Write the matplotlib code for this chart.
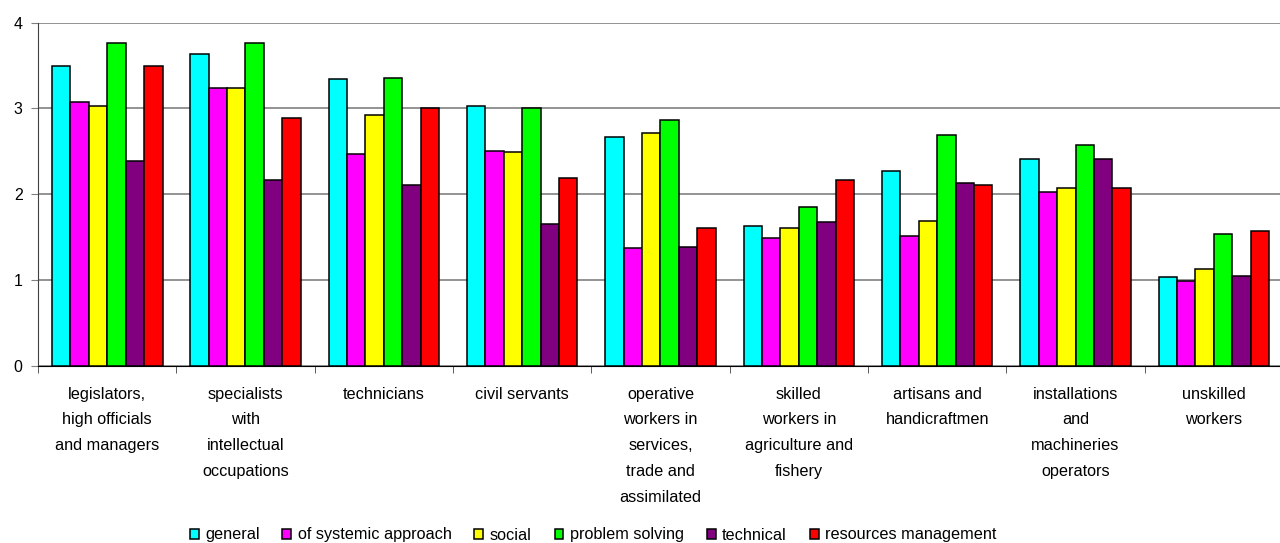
import numpy as np
import matplotlib
matplotlib.use('Agg')
import matplotlib.pyplot as plt

plt.rcParams['font.family'] = ['Liberation Sans', 'DejaVu Sans']

# 类别与数据
categories = [
    'legislators,\nhigh officials\nand managers',
    'specialists\nwith\nintellectual\noccupations',
    'technicians',
    'civil servants',
    'operative\nworkers in\nservices,\ntrade and\nassimilated',
    'skilled\nworkers in\nagriculture and\nfishery',
    'artisans and\nhandicraftmen',
    'installations\nand\nmachineries\noperators',
    'unskilled\nworkers',
]
series_names = ['general', 'of systemic approach', 'social', 'problem solving',
                'technical', 'resources management']

general = [3.50, 3.63, 3.34, 3.03, 2.67, 1.63, 2.27, 2.41, 1.03]
systemic = [3.07, 3.24, 2.47, 2.50, 1.37, 1.49, 1.51, 2.03, 0.99]
social = [3.03, 3.24, 2.92, 2.49, 2.71, 1.61, 1.69, 2.07, 1.13]
problem_solving = [3.76, 3.76, 3.36, 3.00, 2.86, 1.85, 2.69, 2.57, 1.54]
technical = [2.39, 2.17, 2.11, 1.65, 1.39, 1.67, 2.13, 2.41, 1.05]
resources = [3.50, 2.89, 3.00, 2.19, 1.61, 2.17, 2.11, 2.07, 1.57]

series = [general, systemic, social, problem_solving, technical, resources]
colors = ['#00FFFF', '#FF00FF', '#FFFF00', '#00FF00', '#800080', '#FF0000']

fig = plt.figure(figsize=(12.8, 5.43), dpi=100)
ax = fig.add_axes([38 / 1280, 1 - 365.7 / 543, 1245 / 1280, (365.7 - 22.7) / 543])

x = np.arange(len(categories))
w = 1 / 7.5
for i, (vals, c, name) in enumerate(zip(series, colors, series_names)):
    ax.bar(x + (i - 2.5) * w, vals, w, color=c, edgecolor='black',
           linewidth=1.1, label=name, zorder=3)

ax.set_xlim(-0.5, len(categories) - 0.5)
ax.set_ylim(0, 4)
ax.set_yticks([0, 1, 2, 3, 4])
ax.yaxis.grid(True, color='#808080', linewidth=1.2, zorder=0)
ax.set_axisbelow(True)

for s in ['top', 'right']:
    ax.spines[s].set_visible(False)
ax.spines['left'].set_color('#404040')
ax.spines['bottom'].set_color('black')

ax.set_xticks(x)
ax.set_xticklabels(categories, fontsize=11.7, linespacing=1.9, va='top')
ax.set_xticks(np.arange(len(categories)) - 0.5, minor=True)
ax.tick_params(axis='x', which='major', length=0, pad=15)
ax.tick_params(axis='x', which='minor', length=5, color='#404040', direction='out')
ax.tick_params(axis='y', length=5, color='#808080', labelsize=11.5, pad=6)

fig.legend(loc='center', bbox_to_anchor=(593 / 1280, 1 - 535 / 543), ncol=6,
           frameon=False, fontsize=11.7, handlelength=0.55, handleheight=0.55,
           handletextpad=0.4, columnspacing=1.4, borderpad=0)

plt.savefig('out.png', dpi=100)
